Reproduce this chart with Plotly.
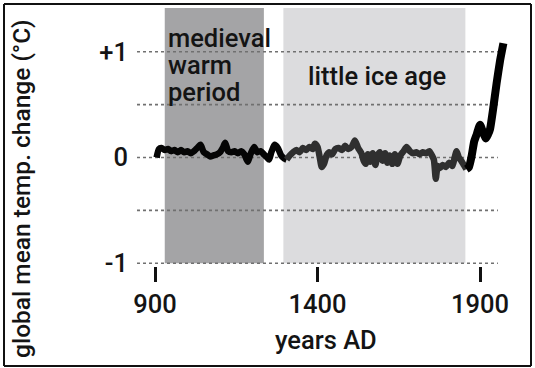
import plotly.graph_objects as go

# ---- data ----
years_early = [905, 912, 920, 930, 940, 950, 960, 970, 980, 990, 1000, 1010, 1020, 1030, 1040,
               1050, 1060, 1070, 1080, 1090, 1100, 1110, 1116, 1125, 1135, 1145, 1155, 1165, 1175,
               1185, 1195, 1205, 1215, 1225, 1235, 1245, 1251, 1258, 1268, 1278, 1288, 1298, 1305]
temp_early = [0.00, 0.08, 0.09, 0.07, 0.08, 0.06, 0.07, 0.05, 0.07, 0.05, 0.06, 0.04, 0.06, 0.09, 0.12,
              0.05, 0.03, 0.01, 0.02, 0.03, 0.05, 0.10, 0.14, 0.06, 0.05, 0.06, 0.04, 0.06, 0.03,
              -0.04, 0.04, 0.10, 0.05, 0.06, 0.03, 0.00, -0.02, 0.05, 0.12, 0.09, 0.02, -0.01, -0.02]

years_lia = [1305, 1315, 1325, 1335, 1345, 1355, 1365, 1375, 1385, 1392, 1400, 1407, 1413, 1420, 1428,
             1436, 1445, 1455, 1465, 1475, 1485, 1495, 1505, 1515, 1525, 1535, 1542, 1548, 1555, 1562,
             1570, 1578, 1585, 1592, 1600, 1608, 1615, 1622, 1630, 1638, 1646, 1655, 1665, 1674, 1684,
             1694, 1704, 1714, 1724, 1734, 1744, 1752, 1758, 1764, 1770, 1777, 1785, 1795, 1805, 1815,
             1822, 1828, 1835, 1842, 1850, 1858]
temp_lia = [-0.02, 0.02, 0.05, 0.07, 0.05, 0.09, 0.07, 0.10, 0.08, 0.13, 0.10, 0.00, -0.09, -0.06, 0.02,
            0.05, 0.03, 0.08, 0.09, 0.07, 0.11, 0.08, 0.10, 0.16, 0.09, 0.04, -0.03, -0.06, 0.03, -0.04,
            0.04, -0.07, 0.02, 0.05, -0.03, 0.04, -0.05, 0.02, -0.06, 0.03, -0.06, 0.02, 0.06, 0.10, 0.06,
            0.04, 0.05, 0.03, 0.05, 0.04, 0.06, 0.02, -0.02, -0.20, -0.08, -0.10, -0.07, -0.09, -0.05, -0.08,
            0.00, 0.06, 0.00, -0.03, -0.07, -0.11]

years_modern = [1858, 1866, 1874, 1882, 1890, 1900, 1908, 1918, 1925, 1931, 1940, 1951, 1962, 1972]
temp_modern = [-0.11, -0.09, 0.01, 0.15, 0.22, 0.31, 0.25, 0.18, 0.22, 0.27, 0.45, 0.70, 0.92, 1.08]

period_names = ["medieval warm period", "little ice age"]
period_starts = [930, 1295]
period_ends = [1235, 1855]

x_tick_vals = [900, 1400, 1900]
y_tick_vals = [-1, 0, 1]
y_tick_text = ["-1", "0", "+1"]
grid_levels = [-1, -0.5, 0, 0.5, 1]

x_title = "years AD"
y_title = "global mean temp. change (°C)"

# ---- figure ----
FONT = "Roboto, Liberation Sans, Arial, sans-serif"
FW = 500
FS = 25.5
TXT = "#141414"
XR = [844.6, 1992.3]
YR = [-1.0255, 1.413]
L, R, T, B = 137, 25, 8, 102
W, H = 535, 368
pw, ph = W - L - R, H - T - B

def px_x(p):
    return (p - L) / pw

def px_y(p):
    return (H - B - p) / ph

def fnt(size=FS):
    return dict(family=FONT, size=size, color=TXT, weight=FW)

fig = go.Figure()

fig.add_trace(go.Scatter(x=years_early, y=temp_early, mode="lines",
                         line=dict(color="#050505", width=6.5, shape="spline", smoothing=0.6),
                         hoverinfo="skip", showlegend=False))
fig.add_trace(go.Scatter(x=years_lia, y=temp_lia, mode="lines",
                         line=dict(color="#2f2f2f", width=6.5, shape="spline", smoothing=0.6),
                         hoverinfo="skip", showlegend=False))
fig.add_trace(go.Scatter(x=years_modern, y=temp_modern, mode="lines",
                         line=dict(color="#000000", width=8, shape="spline", smoothing=0.5),
                         hoverinfo="skip", showlegend=False))

shapes = []
band_colors = ["#a4a4a6", "#dcdcde"]
for s, e, c in zip(period_starts, period_ends, band_colors):
    shapes.append(dict(type="rect", xref="x", yref="y", x0=s, x1=e, y0=-1, y1=YR[1],
                       fillcolor=c, line=dict(width=0), layer="below"))
for g in grid_levels:
    shapes.append(dict(type="line", xref="x", yref="y", x0=XR[0], x1=1955, y0=g, y1=g,
                       line=dict(color="#707070", width=1.6, dash="dot"), layer="below"))
# outer frame (four edges)
fx0, fx1, fy0, fy1 = px_x(4), px_x(531), px_y(366), px_y(4)
for (a, b, c, d) in [(fx0, fy1, fx1, fy1), (fx0, fy0, fx1, fy0), (fx0, fy0, fx0, fy1), (fx1, fy0, fx1, fy1)]:
    shapes.append(dict(type="line", xref="paper", yref="paper", x0=a, y0=b, x1=c, y1=d,
                       line=dict(color="#111111", width=2), layer="above"))

annotations = []
mwp_lines = ["medieval", "warm", "period"]
for txt, yv in zip(mwp_lines, [1.13, 0.875, 0.615]):
    annotations.append(dict(text=txt, x=period_starts[0] + 4, y=yv, xref="x", yref="y",
                            xanchor="left", yanchor="middle", showarrow=False, font=fnt()))
annotations.append(dict(text=period_names[1], x=1365, y=0.77, xref="x", yref="y",
                        xanchor="left", yanchor="middle", showarrow=False, font=fnt()))
annotations.append(dict(text=x_title, x=px_x(326), y=px_y(340), xref="paper", yref="paper",
                        xanchor="center", yanchor="middle", showarrow=False, font=fnt()))
annotations.append(dict(text=y_title, x=px_x(21), y=px_y(189), xref="paper", yref="paper",
                        xanchor="center", yanchor="middle", showarrow=False, textangle=-90,
                        font=fnt(24.5)))

fig.update_layout(
    width=W, height=H,
    margin=dict(l=L, r=R, t=T, b=B, pad=0),
    paper_bgcolor="white", plot_bgcolor="white",
    shapes=shapes, annotations=annotations,
    font=fnt(),
    xaxis=dict(range=XR, tickvals=x_tick_vals, ticks="outside", ticklen=15, tickwidth=2.5,
               tickcolor="#111111", showgrid=False, zeroline=False, showline=False,
               tickfont=fnt(), ticklabelstandoff=0),
    yaxis=dict(range=YR, tickvals=y_tick_vals, ticktext=y_tick_text, ticks="",
               showgrid=False, zeroline=False, showline=False,
               tickfont=fnt(), ticklabelstandoff=8),
)

fig.write_html("out.html", config={"displayModeBar": False},
               post_script="document.body.style.margin='0';document.body.style.padding='0';")
